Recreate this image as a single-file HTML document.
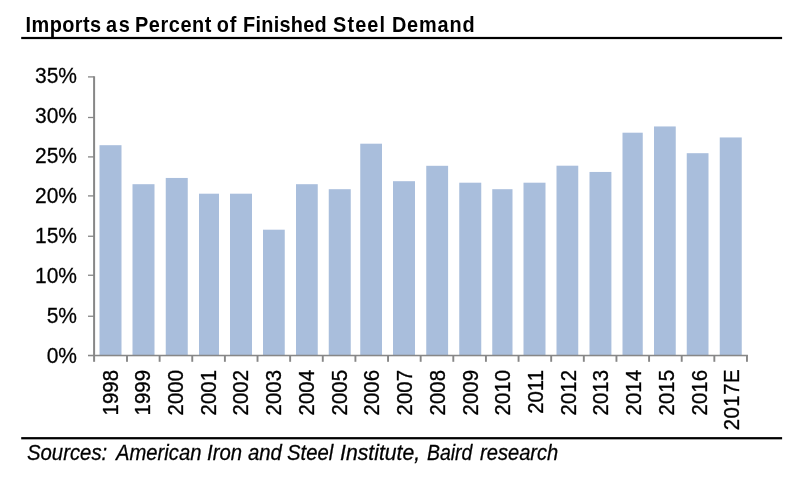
<!DOCTYPE html>
<html><head><meta charset="utf-8"><title>Imports as Percent of Finished Steel Demand</title>
<style>
html,body{margin:0;padding:0;background:#fff;}
body{width:800px;height:480px;position:relative;overflow:hidden;font-family:"Liberation Sans",sans-serif;color:#000;}
.abs{position:absolute;}
.title{top:13.1px;transform-origin:0 18.85px;font-size:19.9px;font-weight:bold;white-space:nowrap;line-height:24px;letter-spacing:0px;}
.ylab{-webkit-text-stroke:0.25px #000;transform-origin:0 19.3px;transform:scaleY(1.045);left:20px;width:57px;text-align:right;font-size:21px;line-height:24px;height:24px;white-space:nowrap;}
.xlab{-webkit-text-stroke:0.3px #000;font-size:20.4px;line-height:20px;height:20px;white-space:nowrap;transform-origin:0 0;transform:rotate(-90deg) scale(1,1.07);text-align:right;width:70px;}
.src{-webkit-text-stroke:0.25px #000;top:440.7px;transform-origin:0 19.1px;font-size:20.62px;font-style:italic;white-space:nowrap;line-height:24px;}
</style></head><body>
<span class="abs title" style="left:25.60px;letter-spacing:0.442px;transform:scale(1,1.07)">Imports</span> <span class="abs title" style="left:106.00px;letter-spacing:1.750px;transform:scale(1,1.07)">as</span> <span class="abs title" style="left:135.00px;letter-spacing:0.583px;transform:scale(1,1.07)">Percent</span> <span class="abs title" style="left:216.75px;letter-spacing:0.750px;transform:scale(1,1.07)">of</span> <span class="abs title" style="left:243.10px;letter-spacing:0.271px;transform:scale(1,1.07)">Finished</span> <span class="abs title" style="left:333.10px;letter-spacing:1.100px;transform:scale(1,1.07)">Steel</span> <span class="abs title" style="left:391.90px;letter-spacing:0.840px;transform:scale(1,1.07)">Demand</span>

<div class="abs ylab" style="top:63.90px">35%</div>
<div class="abs ylab" style="top:103.90px">30%</div>
<div class="abs ylab" style="top:143.90px">25%</div>
<div class="abs ylab" style="top:183.90px">20%</div>
<div class="abs ylab" style="top:223.90px">15%</div>
<div class="abs ylab" style="top:263.90px">10%</div>
<div class="abs ylab" style="top:303.90px">5%</div>
<div class="abs ylab" style="top:343.90px">0%</div>
<svg class="abs" style="left:0;top:0" width="800" height="480" viewBox="0 0 800 480">
<rect x="99.5" y="145.20" width="22.00" height="210.00" fill="#a9bedc"/>
<rect x="132.5" y="184.20" width="22.00" height="171.00" fill="#a9bedc"/>
<rect x="165.75" y="177.95" width="22.00" height="177.25" fill="#a9bedc"/>
<rect x="199.0" y="193.70" width="20.00" height="161.50" fill="#a9bedc"/>
<rect x="230" y="193.70" width="22.00" height="161.50" fill="#a9bedc"/>
<rect x="263" y="229.70" width="21.75" height="125.50" fill="#a9bedc"/>
<rect x="296" y="184.20" width="21.75" height="171.00" fill="#a9bedc"/>
<rect x="328.75" y="189.20" width="22.00" height="166.00" fill="#a9bedc"/>
<rect x="360.25" y="143.70" width="21.75" height="211.50" fill="#a9bedc"/>
<rect x="393" y="181.20" width="22.00" height="174.00" fill="#a9bedc"/>
<rect x="426.25" y="165.80" width="21.85" height="189.40" fill="#a9bedc"/>
<rect x="459.25" y="182.70" width="22.00" height="172.50" fill="#a9bedc"/>
<rect x="492.25" y="189.20" width="20.25" height="166.00" fill="#a9bedc"/>
<rect x="523.5" y="182.70" width="22.00" height="172.50" fill="#a9bedc"/>
<rect x="556.5" y="165.70" width="21.75" height="189.50" fill="#a9bedc"/>
<rect x="589.5" y="171.95" width="21.90" height="183.25" fill="#a9bedc"/>
<rect x="622.5" y="132.70" width="20.25" height="222.50" fill="#a9bedc"/>
<rect x="654" y="126.45" width="21.75" height="228.75" fill="#a9bedc"/>
<rect x="686.75" y="153.20" width="21.75" height="202.00" fill="#a9bedc"/>
<rect x="719.75" y="137.45" width="22.00" height="217.75" fill="#a9bedc"/>
<rect x="88" y="76.25" width="6" height="1.3" fill="#878787"/>
<rect x="88" y="116.85" width="6" height="1.3" fill="#878787"/>
<rect x="88" y="156.25" width="6" height="1.3" fill="#878787"/>
<rect x="88" y="195.25" width="6" height="1.3" fill="#878787"/>
<rect x="88" y="235.60" width="6" height="1.3" fill="#878787"/>
<rect x="88" y="274.60" width="6" height="1.3" fill="#878787"/>
<rect x="88" y="315.60" width="6" height="1.3" fill="#878787"/>
<rect x="93.1" y="76.25" width="2" height="285.55" fill="#878787"/>
<rect x="88" y="354.75" width="659.95" height="1.55" fill="#878787"/>
<rect x="126.05" y="355.5" width="1.9" height="6.3" fill="#878787"/>
<rect x="158.68" y="355.5" width="1.9" height="6.3" fill="#878787"/>
<rect x="191.31" y="355.5" width="1.9" height="6.3" fill="#878787"/>
<rect x="223.94" y="355.5" width="1.9" height="6.3" fill="#878787"/>
<rect x="256.57" y="355.5" width="1.9" height="6.3" fill="#878787"/>
<rect x="289.20" y="355.5" width="1.9" height="6.3" fill="#878787"/>
<rect x="321.83" y="355.5" width="1.9" height="6.3" fill="#878787"/>
<rect x="354.46" y="355.5" width="1.9" height="6.3" fill="#878787"/>
<rect x="387.09" y="355.5" width="1.9" height="6.3" fill="#878787"/>
<rect x="419.72" y="355.5" width="1.9" height="6.3" fill="#878787"/>
<rect x="452.35" y="355.5" width="1.9" height="6.3" fill="#878787"/>
<rect x="484.98" y="355.5" width="1.9" height="6.3" fill="#878787"/>
<rect x="517.61" y="355.5" width="1.9" height="6.3" fill="#878787"/>
<rect x="550.24" y="355.5" width="1.9" height="6.3" fill="#878787"/>
<rect x="582.87" y="355.5" width="1.9" height="6.3" fill="#878787"/>
<rect x="615.50" y="355.5" width="1.9" height="6.3" fill="#878787"/>
<rect x="648.13" y="355.5" width="1.9" height="6.3" fill="#878787"/>
<rect x="680.76" y="355.5" width="1.9" height="6.3" fill="#878787"/>
<rect x="713.39" y="355.5" width="1.9" height="6.3" fill="#878787"/>
<rect x="746.02" y="355.5" width="1.9" height="6.3" fill="#878787"/>
<rect x="21.2" y="36.9" width="760.9" height="2.2" fill="#000"/>
<rect x="21.2" y="437.1" width="760.9" height="2.25" fill="#000"/>
</svg>
<div class="abs xlab" style="left:99.60px;top:439.70px">1998</div>
<div class="abs xlab" style="left:132.32px;top:439.70px">1999</div>
<div class="abs xlab" style="left:165.04px;top:439.70px">2000</div>
<div class="abs xlab" style="left:197.76px;top:439.70px">2001</div>
<div class="abs xlab" style="left:230.48px;top:439.70px">2002</div>
<div class="abs xlab" style="left:263.20px;top:439.70px">2003</div>
<div class="abs xlab" style="left:295.92px;top:439.70px">2004</div>
<div class="abs xlab" style="left:328.64px;top:439.70px">2005</div>
<div class="abs xlab" style="left:361.36px;top:439.70px">2006</div>
<div class="abs xlab" style="left:394.08px;top:439.70px">2007</div>
<div class="abs xlab" style="left:426.80px;top:439.70px">2008</div>
<div class="abs xlab" style="left:459.52px;top:439.70px">2009</div>
<div class="abs xlab" style="left:492.24px;top:439.70px">2010</div>
<div class="abs xlab" style="left:524.96px;top:439.70px">2011</div>
<div class="abs xlab" style="left:557.68px;top:439.70px">2012</div>
<div class="abs xlab" style="left:590.40px;top:439.70px">2013</div>
<div class="abs xlab" style="left:623.12px;top:439.70px">2014</div>
<div class="abs xlab" style="left:655.84px;top:439.70px">2015</div>
<div class="abs xlab" style="left:688.56px;top:439.70px">2016</div>
<div class="abs xlab" style="left:721.28px;top:439.70px;letter-spacing:0.45px;margin-top:-0.85px">2017E</div>
<span class="abs src" style="left:26.51px;transform:scale(0.9863,1.06)">Sources:</span> <span class="abs src" style="left:115.78px;transform:scale(0.9810,1.06)">American</span> <span class="abs src" style="left:206.91px;transform:scale(0.9853,1.06)">Iron</span> <span class="abs src" style="left:248.15px;transform:scale(0.9857,1.06)">and</span> <span class="abs src" style="left:287.17px;transform:scale(0.9840,1.06)">Steel</span> <span class="abs src" style="left:339.97px;transform:scale(1.0287,1.06)">Institute,</span> <span class="abs src" style="left:427.30px;transform:scale(0.9429,1.06)">Baird</span> <span class="abs src" style="left:480.15px;transform:scale(0.9766,1.06)">research</span>
</body></html>
